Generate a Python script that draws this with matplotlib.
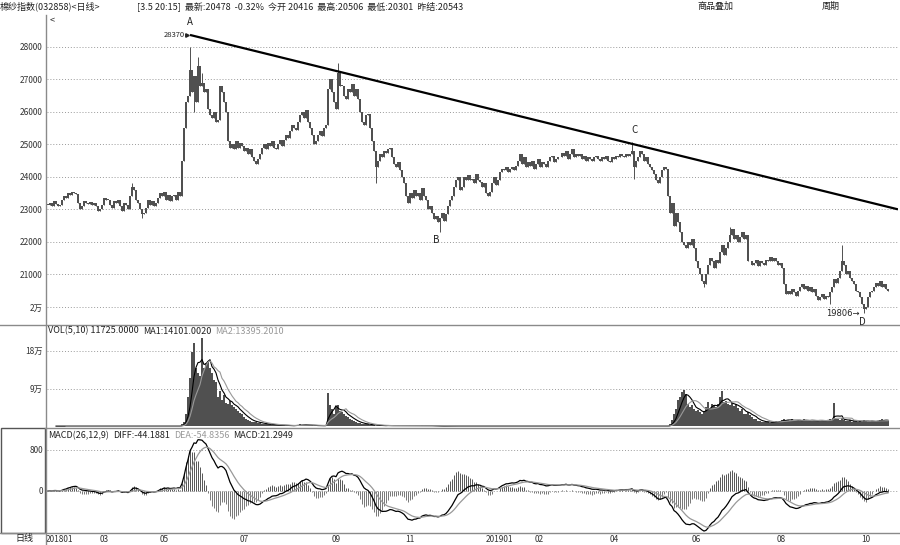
import matplotlib
matplotlib.use('Agg')
import matplotlib.pyplot as plt
from matplotlib.lines import Line2D
from matplotlib.patches import Rectangle
import numpy as np
import pandas as pd

plt.rcParams['font.family'] = ['Noto Sans CJK SC', 'DejaVu Sans']

# ---- data (daily closes) ----
close = [
    # 2018-01 .. 2018-05 (quiet)
    23150, 23200, 23120, 23250, 23180, 23100,
    23150, 23300, 23400, 23350, 23500, 23450, 23550, 23500, 23480,
    23200, 23000, 23100,
    23250, 23200, 23180, 23220, 23150, 23200, 23100,
    22950, 23000, 23150, 23350, 23300,
    23300, 23150, 23050, 23250, 23200, 23300,
    23100, 22950, 23200, 23150, 23000,
    23400, 23700, 23600, 23300,
    23200, 23000, 22850, 22900, 23050,
    23300, 23150, 23250, 23100, 23200, 23350,
    23500, 23400, 23550, 23300, 23450, 23250, 23400,
    23450, 23300, 23550, 23400,
    # surge + A
    24500, 25500, 26300, 26500, 27300, 26600, 27100, 26300, 27400, 26800,
    26900, 26600, 26700, 26100, 25900, 25800, 26000, 25700, 25750, 26800,
    26600, 26300, 26000, 25100, 24900,
    25000, 24850, 25100, 24900, 25050, 24950, 24800, 24900, 24700, 24850,
    24600, 24500, 24400, 24550,
    24700, 24900, 25000, 24850, 25050,
    24950, 25100, 24900, 24850, 25000, 25150, 24950,
    25150, 25300, 25200,
    25400, 25600, 25500, 25450,
    25700, 25900, 26000, 25800, 26050,
    25700, 25500, 25300, 25000,
    25100, 25300, 25400, 25250, 25500, 25600,
    26700, 27000, 26600, 26300, 26100, 27200, 26800,
    26800, 26500, 26400, 26700,
    26600, 26850, 26500, 26700, 26400,
    26000, 25700, 25600, 25900, 25950, 25500, 25100, 24800, 24300,
    24500, 24700, 24600, 24800, 24750,
    24850, 24900, 24600,
    24400, 24300, 24450,
    24200, 24000, 23800, 23400, 23200,
    23500, 23350, 23600, 23400, 23500, 23300, 23650, 23400,
    23300, 23000, 23100,
    # B
    22900, 22700, 22800, 22600, 22750, 22900, 22650, 22850,
    23100, 23300, 23400,
    23700, 23900, 24000, 23600, 23700,
    24000, 23900, 24050,
    23900, 23950, 23800, 24100, 23900, 23850, 23700, 23800,
    23500, 23400, 23550,
    23800, 24000, 23750, 23900, 24150,
    24250, 24200, 24300, 24150, 24250, 24300, 24200, 24350,
    24500, 24700, 24400, 24600,
    24300, 24450, 24350, 24500, 24250, 24400, 24550, 24300, 24450, 24400,
    24300, 24500, 24600, 24650, 24450, 24550, 24600,
    24600, 24750, 24650, 24800, 24550, 24700, 24850, 24600, 24700, 24650,
    24700, 24550, 24650, 24500, 24600, 24550, 24500, 24600, 24650, 24550,
    24500, 24600, 24550, 24650, 24500, 24450, 24600, 24550, 24650, 24600,
    24700, 24650, 24600, 24700, 24650,
    # C
    24700, 24800, 24300, 24500,
    24600, 24800, 24700, 24500, 24600,
    24400, 24300, 24200,
    24100, 23900, 23800, 24000, 24200,
    24300, 24250, 23400,
    22900, 23200, 22500, 22900, 22600,
    22300, 22000, 21900,
    21800, 22000, 21900, 22100, 21800,
    21400, 21200,
    21000, 20800, 20700, 21000,
    21300, 21500, 21400, 21200, 21450, 21350,
    21700, 21900, 21600, 21800, 22000,
    22200, 22400, 22100,
    22200, 22000, 22150, 22300, 22100, 22200,
    21400,
    21400, 21300, 21350, 21450, 21250, 21400, 21350, 21300, 21450, 21400,
    21550, 21400,
    21500, 21400, 21300, 21350, 21200,
    20700, 20400,
    20500, 20400, 20550, 20450, 20350, 20500,
    20600, 20700, 20550, 20650, 20500, 20600, 20450, 20550,
    20350, 20200, 20300, 20400, 20250, 20350, 20300, 20450,
    20600, 20850, 20750, 20900, 21100,
    21400,
    21300, 21000, 21100, 20900,
    20800, 20700, 20500, 20450,
    # D
    20300, 20100, 19950, 20000,
    20300, 20450, 20500, 20600,
    20750, 20650, 20800, 20600, 20700, 20545,
    20478,
]

# notable wicks
high_marks = {42: 23800, 71: 28000, 75: 27700, 77: 27200, 145: 27500,
              292: 25080, 341: 22450, 397: 21900}
low_marks = {47: 22750, 73: 26000, 164: 23800, 196: 22300, 293: 23950,
             328: 20600, 391: 20100, 408: 19806}

# volume in 万
vol_wan = (
    [0.0] * 67
    + [0.5, 1.0, 3.0, 7.0, 11.5, 17.8, 20.0, 14.0, 12.7, 12.0, 21.0, 14.0,
       15.0, 15.5, 14.0, 12.7, 11.0, 10.5, 7.0, 8.5, 6.2, 7.5, 5.5, 5.2,
       6.0, 5.0, 4.6, 4.0, 3.5, 3.1, 2.8, 2.2, 1.8, 1.5, 1.3, 1.1, 1.0, 0.9,
       0.8, 0.7, 0.6, 0.5, 0.5, 0.4, 0.4, 0.3, 0.3, 0.3, 0.2, 0.2, 0.2, 0.2,
       0.1, 0.1, 0.1, 0.1, 0.1,
       0.3, 0.3, 0.4, 0.3, 0.3, 0.3, 0.2, 0.2, 0.2, 0.1, 0.1, 0.1, 0.1, 0.1,
       0.1, 0.2,
       7.9, 5.0, 4.0, 3.0, 4.5, 5.0, 3.5, 3.3, 2.8, 2.5, 2.2, 1.8, 1.5, 1.2,
       1.0, 0.8, 0.7, 0.6, 0.5, 0.4, 0.4, 0.3, 0.3,
       0.2, 0.1, 0.1, 0.2, 0.1, 0.1, 0.1, 0.2, 0.1, 0.1, 0.1, 0.1, 0.2, 0.1,
       0.1, 0.1, 0.1, 0.1, 0.2, 0.1, 0.1, 0.1, 0.1, 0.1, 0.2, 0.1, 0.1, 0.1,
       0.1, 0.1]
    + [0.0] * 118
    + [0.5, 1.5, 3.0, 4.0, 6.2, 7.0, 8.2, 8.6, 7.8, 5.4, 4.6, 5.0,
       4.2, 3.6, 3.8, 3.4, 3.0, 3.4, 4.6, 5.8, 4.0, 5.4, 5.0, 4.6,
       5.2, 7.0, 8.4, 5.8, 6.0, 5.4, 5.0, 5.6, 4.8, 5.2, 4.4, 3.6,
       4.0, 3.0, 2.8, 3.4, 2.6, 2.2, 1.8, 1.6, 1.2, 1.2, 1.0, 1.1,
       0.9, 1.0, 0.8, 1.0, 0.9, 1.2, 1.0, 1.3, 1.5, 1.6, 1.4, 1.5,
       1.3, 1.6, 1.2, 1.4, 1.5, 1.3, 1.2, 1.6, 1.4, 1.3, 1.2, 1.5,
       1.4, 1.3, 1.2, 1.4, 1.5, 1.3, 1.2, 1.4, 1.6, 1.5, 5.6, 1.8,
       1.6, 1.4, 1.9, 1.5, 1.3, 1.2, 1.4, 1.1, 1.3, 1.2, 1.0, 1.3,
       1.1, 1.4, 1.2, 1.0, 1.1, 1.3, 1.2, 1.0, 1.3, 1.5, 1.6, 1.47, 1.3, 1.1725]
)

month_labels = ['201801', '03', '05', '07', '09', '11', '201901', '02', '04', '06', '08', '10']
month_pos = [5.5, 28, 58, 98, 144, 181, 225.5, 245.5, 283, 324, 366.5, 409]

price_ticks = [28000, 27000, 26000, 25000, 24000, 23000, 22000, 21000, 20000]
price_tick_labels = ['28000', '27000', '26000', '25000', '24000', '23000', '22000', '21000', '2万']
vol_ticks = [18, 9]
vol_tick_labels = ['18万', '9万']
macd_ticks = [800, 0]

trend_pts = [(71, 28370), (292, 25020)]   # A -> C
point_labels = {'A': 71, 'B': 196, 'C': 292, 'D': 408}

# ---- derived ----
c = np.array(close, dtype=float)
n = len(c)
assert len(vol_wan) == n
x = np.arange(n)
o = np.r_[c[0], c[:-1]]
hi = np.maximum(o, c)
lo = np.minimum(o, c)
for k, v in high_marks.items():
    hi[k] = v
for k, v in low_marks.items():
    lo[k] = v

s = pd.Series(c)
dif = s.ewm(span=12, adjust=False).mean() - s.ewm(span=26, adjust=False).mean()
dea = dif.ewm(span=9, adjust=False).mean()
hist = 2 * (dif - dea)

v = pd.Series(vol_wan)
ma1 = v.rolling(5).mean()
ma2 = v.rolling(10).mean()

# ---- figure ----
W, H = 900, 545
fig = plt.figure(figsize=(9, 5.45), dpi=100, facecolor='white')


def fx(px):
    return px / W


def fy(py):
    return 1 - py / H


L, R = fx(47), fx(898)
ax = fig.add_axes([L, fy(325), R - L, fy(20) - fy(325)])
axv = fig.add_axes([L, fy(428), R - L, fy(325) - fy(428)], sharex=ax)
axm = fig.add_axes([L, fy(533), R - L, fy(428) - fy(533)], sharex=ax)

grid_kw = dict(color='#9a9a9a', lw=0.7, ls=(0, (1, 2)))
dark = '#505050'

for a in (ax, axv, axm):
    for sp in a.spines.values():
        sp.set_visible(False)
    a.tick_params(length=0, labelsize=6, colors='#333333', pad=3)
    a.set_facecolor('none')

ax.set_xlim(-0.5, 425)

# price candles
ax.vlines(x, lo, hi, color=dark, lw=0.7)
ax.bar(x, np.maximum(np.abs(c - o), 20), bottom=np.minimum(o, c), width=0.7, color=dark, lw=0)
ax.set_ylim(19446, 28830)
ax.set_yticks(price_ticks)
ax.set_yticklabels(price_tick_labels)
for t in price_ticks:
    ax.axhline(t, **grid_kw, zorder=0)
plt.setp(ax.get_xticklabels(), visible=False)

# trend line A-C extended
(xa, ya), (xc, yc) = trend_pts
slope = (yc - ya) / (xc - xa)
xe = 425
ax.plot([xa, xe], [ya, ya + slope * (xe - xa)], color='black', lw=1.6, solid_capstyle='butt')
ax.text(xa - 2.5, ya, '28370', ha='right', va='center', fontsize=5.5, color='#222222')
ax.plot([xa - 1.5], [ya], marker='>', ms=2.5, color='#222222')

lab_kw = dict(fontsize=7, color='#222222', ha='center')
ax.annotate('A', (point_labels['A'], ya), xytext=(0, 6), textcoords='offset points', va='bottom', **lab_kw)
ax.annotate('B', (point_labels['B'], lo[point_labels['B']]), xytext=(-3, -2), textcoords='offset points', va='top', **lab_kw)
ax.annotate('C', (point_labels['C'], hi[point_labels['C']]), xytext=(2, 5), textcoords='offset points', va='bottom', **lab_kw)
ax.annotate('D', (point_labels['D'], lo[point_labels['D']]), xytext=(-1, -3), textcoords='offset points', va='top', **lab_kw)
ax.annotate('19806→', (point_labels['D'], lo[point_labels['D']]), xytext=(-3, 0), textcoords='offset points',
            ha='right', va='center', fontsize=6, color='#222222', family=['DejaVu Sans'])

# volume
axv.bar(x, vol_wan, width=0.7, color=dark, lw=0)
axv.plot(x, ma1, color='black', lw=0.8)
axv.plot(x, ma2, color='#999999', lw=0.8)
axv.set_ylim(-0.45, 24.2)
axv.set_yticks(vol_ticks)
axv.set_yticklabels(vol_tick_labels)
for t in vol_ticks:
    axv.axhline(t, **grid_kw, zorder=0)
plt.setp(axv.get_xticklabels(), visible=False)

# MACD
pos = hist >= 0
axm.vlines(x[pos], 0, hist[pos], color='#555555', lw=0.7)
axm.vlines(x[~pos], hist[~pos], 0, color='#777777', lw=0.7)
axm.plot(x, dif, color='black', lw=0.9)
axm.plot(x, dea, color='#999999', lw=0.9)
axm.set_ylim(-820, 1229)
axm.set_yticks(macd_ticks)
axm.set_yticklabels([str(t) for t in macd_ticks])
for t in macd_ticks:
    axm.axhline(t, **grid_kw, zorder=0)
axm.set_xticks(month_pos)
axm.set_xticklabels(month_labels)
axm.tick_params(axis='x', pad=1.5)

# frame lines
line_c = '#8a8a8a'
fig.add_artist(Line2D([fx(0), fx(900)], [fy(325), fy(325)], color=line_c, lw=1))
fig.add_artist(Line2D([fx(45), fx(900)], [fy(428), fy(428)], color=line_c, lw=1))
fig.add_artist(Line2D([fx(0), fx(900)], [fy(533), fy(533)], color=line_c, lw=1))
fig.add_artist(Line2D([fx(46), fx(46)], [fy(15), fy(545)], color=line_c, lw=1))
fig.add_artist(Rectangle((fx(1), fy(533)), fx(44), fy(428) - fy(533), fill=False, ec='#555555', lw=1))

# header texts
renderer = fig.canvas.get_renderer()


def text_run(px, py, parts, size=6.5):
    # parts: list of (string, colour), drawn one after another
    xf = fx(px)
    for txt, col in parts:
        t = fig.text(xf, fy(py), txt, fontsize=size, va='center', color=col)
        bb = t.get_window_extent(renderer=renderer)
        xf = bb.x1 / W + fx(4)


hk = dict(fontsize=6.5, va='center', color='#222222')
fig.text(fx(0), fy(6), '棉纱指数(032858)<日线>', **hk)
fig.text(fx(137), fy(6), '[3.5 20:15]  最新:20478  -0.32%  今开 20416  最高:20506  最低:20301  昨结:20543', **hk)
fig.text(fx(697), fy(6), '商品叠加', **hk)
fig.text(fx(822), fy(6), '周期', **hk)
fig.text(fx(50), fy(21), '<', **hk)

text_run(48, 331, [('VOL(5,10) 11725.0000', '#222222'), ('MA1:14101.0020', '#222222'),
                   ('MA2:13395.2010', '#999999')])
text_run(48, 436, [('MACD(26,12,9)', '#222222'), ('DIFF:-44.1881', '#222222'),
                   ('DEA:-54.8356', '#999999'), ('MACD:21.2949', '#222222')])
fig.text(fx(15), fy(539), '日线', **hk)

fig.savefig('out.png', dpi=100, facecolor='white')
